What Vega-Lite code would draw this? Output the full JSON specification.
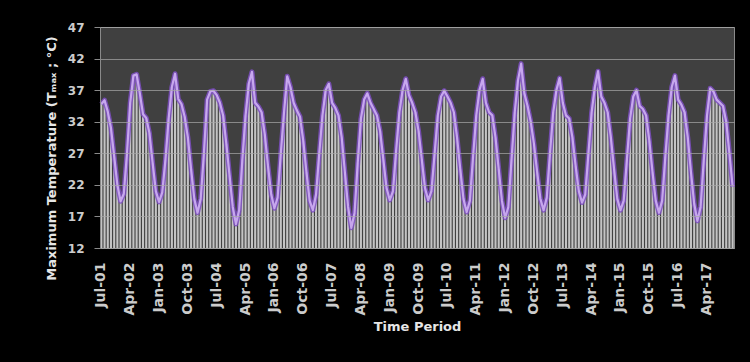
{
  "$schema": "https://vega.github.io/schema/vega-lite/v6.json",
  "width": 634,
  "height": 221,
  "autosize": {"type": "none"},
  "padding": {"left": 100, "top": 27, "right": 16, "bottom": 114},
  "background": "#000000",
  "config": {
    "view": {"fill": "#404040", "stroke": "#8a8a8a", "strokeWidth": 1}
  },
  "data": {
    "values": [
      {"m": "Jul-01", "t": 34.8}, {"m": "Aug-01", "t": 35.4}, {"m": "Sep-01", "t": 33.6}, {"m": "Oct-01", "t": 31.0}, {"m": "Nov-01", "t": 26.5}, {"m": "Dec-01", "t": 22.0},
      {"m": "Jan-02", "t": 19.4}, {"m": "Feb-02", "t": 20.6}, {"m": "Mar-02", "t": 27.0}, {"m": "Apr-02", "t": 35.0}, {"m": "May-02", "t": 39.3}, {"m": "Jun-02", "t": 39.5},
      {"m": "Jul-02", "t": 36.5}, {"m": "Aug-02", "t": 33.2}, {"m": "Sep-02", "t": 32.6}, {"m": "Oct-02", "t": 30.2}, {"m": "Nov-02", "t": 25.5}, {"m": "Dec-02", "t": 21.0},
      {"m": "Jan-03", "t": 19.3}, {"m": "Feb-03", "t": 20.8}, {"m": "Mar-03", "t": 26.0}, {"m": "Apr-03", "t": 32.5}, {"m": "May-03", "t": 37.5}, {"m": "Jun-03", "t": 39.6},
      {"m": "Jul-03", "t": 35.6}, {"m": "Aug-03", "t": 34.8}, {"m": "Sep-03", "t": 32.8}, {"m": "Oct-03", "t": 29.5}, {"m": "Nov-03", "t": 24.5}, {"m": "Dec-03", "t": 19.8},
      {"m": "Jan-04", "t": 17.6}, {"m": "Feb-04", "t": 19.8}, {"m": "Mar-04", "t": 27.0}, {"m": "Apr-04", "t": 35.5}, {"m": "May-04", "t": 36.8}, {"m": "Jun-04", "t": 36.9},
      {"m": "Jul-04", "t": 36.2}, {"m": "Aug-04", "t": 35.0}, {"m": "Sep-04", "t": 33.0}, {"m": "Oct-04", "t": 28.5}, {"m": "Nov-04", "t": 23.5}, {"m": "Dec-04", "t": 18.5},
      {"m": "Jan-05", "t": 15.8}, {"m": "Feb-05", "t": 18.0}, {"m": "Mar-05", "t": 26.0}, {"m": "Apr-05", "t": 33.0}, {"m": "May-05", "t": 38.0}, {"m": "Jun-05", "t": 39.9},
      {"m": "Jul-05", "t": 35.0}, {"m": "Aug-05", "t": 34.4}, {"m": "Sep-05", "t": 33.5}, {"m": "Oct-05", "t": 30.0}, {"m": "Nov-05", "t": 25.0}, {"m": "Dec-05", "t": 20.5},
      {"m": "Jan-06", "t": 18.3}, {"m": "Feb-06", "t": 20.0}, {"m": "Mar-06", "t": 27.0}, {"m": "Apr-06", "t": 33.5}, {"m": "May-06", "t": 39.2}, {"m": "Jun-06", "t": 37.5},
      {"m": "Jul-06", "t": 35.0}, {"m": "Aug-06", "t": 33.8}, {"m": "Sep-06", "t": 32.8}, {"m": "Oct-06", "t": 29.0}, {"m": "Nov-06", "t": 24.0}, {"m": "Dec-06", "t": 19.5},
      {"m": "Jan-07", "t": 18.0}, {"m": "Feb-07", "t": 20.5}, {"m": "Mar-07", "t": 27.0}, {"m": "Apr-07", "t": 33.0}, {"m": "May-07", "t": 37.0}, {"m": "Jun-07", "t": 38.0},
      {"m": "Jul-07", "t": 35.0}, {"m": "Aug-07", "t": 34.2}, {"m": "Sep-07", "t": 33.0}, {"m": "Oct-07", "t": 29.5}, {"m": "Nov-07", "t": 24.0}, {"m": "Dec-07", "t": 18.5},
      {"m": "Jan-08", "t": 15.2}, {"m": "Feb-08", "t": 17.5}, {"m": "Mar-08", "t": 25.5}, {"m": "Apr-08", "t": 32.5}, {"m": "May-08", "t": 35.5}, {"m": "Jun-08", "t": 36.5},
      {"m": "Jul-08", "t": 35.0}, {"m": "Aug-08", "t": 34.0}, {"m": "Sep-08", "t": 33.0}, {"m": "Oct-08", "t": 30.5}, {"m": "Nov-08", "t": 26.0}, {"m": "Dec-08", "t": 21.5},
      {"m": "Jan-09", "t": 19.6}, {"m": "Feb-09", "t": 21.0}, {"m": "Mar-09", "t": 27.5}, {"m": "Apr-09", "t": 33.5}, {"m": "May-09", "t": 37.0}, {"m": "Jun-09", "t": 38.8},
      {"m": "Jul-09", "t": 36.2}, {"m": "Aug-09", "t": 35.0}, {"m": "Sep-09", "t": 33.5}, {"m": "Oct-09", "t": 30.5}, {"m": "Nov-09", "t": 26.0}, {"m": "Dec-09", "t": 21.5},
      {"m": "Jan-10", "t": 19.6}, {"m": "Feb-10", "t": 21.0}, {"m": "Mar-10", "t": 27.0}, {"m": "Apr-10", "t": 33.0}, {"m": "May-10", "t": 36.0}, {"m": "Jun-10", "t": 36.9},
      {"m": "Jul-10", "t": 36.0}, {"m": "Aug-10", "t": 35.0}, {"m": "Sep-10", "t": 33.5}, {"m": "Oct-10", "t": 29.5}, {"m": "Nov-10", "t": 24.5}, {"m": "Dec-10", "t": 19.8},
      {"m": "Jan-11", "t": 17.7}, {"m": "Feb-11", "t": 19.5}, {"m": "Mar-11", "t": 26.5}, {"m": "Apr-11", "t": 33.0}, {"m": "May-11", "t": 37.0}, {"m": "Jun-11", "t": 38.8},
      {"m": "Jul-11", "t": 35.0}, {"m": "Aug-11", "t": 33.5}, {"m": "Sep-11", "t": 33.0}, {"m": "Oct-11", "t": 29.5}, {"m": "Nov-11", "t": 24.5}, {"m": "Dec-11", "t": 19.5},
      {"m": "Jan-12", "t": 16.8}, {"m": "Feb-12", "t": 18.5}, {"m": "Mar-12", "t": 26.0}, {"m": "Apr-12", "t": 33.5}, {"m": "May-12", "t": 38.5}, {"m": "Jun-12", "t": 41.2},
      {"m": "Jul-12", "t": 36.5}, {"m": "Aug-12", "t": 34.5}, {"m": "Sep-12", "t": 32.0}, {"m": "Oct-12", "t": 28.5}, {"m": "Nov-12", "t": 24.0}, {"m": "Dec-12", "t": 19.8},
      {"m": "Jan-13", "t": 18.0}, {"m": "Feb-13", "t": 20.0}, {"m": "Mar-13", "t": 27.0}, {"m": "Apr-13", "t": 33.5}, {"m": "May-13", "t": 37.0}, {"m": "Jun-13", "t": 38.9},
      {"m": "Jul-13", "t": 35.0}, {"m": "Aug-13", "t": 33.0}, {"m": "Sep-13", "t": 32.5}, {"m": "Oct-13", "t": 29.5}, {"m": "Nov-13", "t": 25.0}, {"m": "Dec-13", "t": 21.0},
      {"m": "Jan-14", "t": 19.2}, {"m": "Feb-14", "t": 20.5}, {"m": "Mar-14", "t": 27.0}, {"m": "Apr-14", "t": 33.5}, {"m": "May-14", "t": 37.5}, {"m": "Jun-14", "t": 40.0},
      {"m": "Jul-14", "t": 36.0}, {"m": "Aug-14", "t": 35.0}, {"m": "Sep-14", "t": 33.5}, {"m": "Oct-14", "t": 29.5}, {"m": "Nov-14", "t": 24.5}, {"m": "Dec-14", "t": 19.8},
      {"m": "Jan-15", "t": 18.0}, {"m": "Feb-15", "t": 19.5}, {"m": "Mar-15", "t": 26.0}, {"m": "Apr-15", "t": 32.5}, {"m": "May-15", "t": 36.0}, {"m": "Jun-15", "t": 37.0},
      {"m": "Jul-15", "t": 34.5}, {"m": "Aug-15", "t": 34.0}, {"m": "Sep-15", "t": 33.0}, {"m": "Oct-15", "t": 29.0}, {"m": "Nov-15", "t": 24.0}, {"m": "Dec-15", "t": 19.5},
      {"m": "Jan-16", "t": 17.6}, {"m": "Feb-16", "t": 19.5}, {"m": "Mar-16", "t": 26.5}, {"m": "Apr-16", "t": 33.0}, {"m": "May-16", "t": 37.5}, {"m": "Jun-16", "t": 39.3},
      {"m": "Jul-16", "t": 35.5}, {"m": "Aug-16", "t": 34.7}, {"m": "Sep-16", "t": 33.5}, {"m": "Oct-16", "t": 29.5}, {"m": "Nov-16", "t": 24.0}, {"m": "Dec-16", "t": 19.0},
      {"m": "Jan-17", "t": 16.3}, {"m": "Feb-17", "t": 18.5}, {"m": "Mar-17", "t": 26.0}, {"m": "Apr-17", "t": 33.0}, {"m": "May-17", "t": 37.3}, {"m": "Jun-17", "t": 36.8},
      {"m": "Jul-17", "t": 35.5}, {"m": "Aug-17", "t": 35.0}, {"m": "Sep-17", "t": 34.5}, {"m": "Oct-17", "t": 32.0}, {"m": "Nov-17", "t": 27.0}, {"m": "Dec-17", "t": 21.7}
    ]
  },
  "encoding": {
    "x": {
      "field": "m",
      "type": "ordinal",
      "sort": null,
      "scale": {"paddingInner": 0.35, "paddingOuter": 0.1},
      "axis": {
        "title": "Time Period",
        "values": ["Jul-01", "Apr-02", "Jan-03", "Oct-03", "Jul-04", "Apr-05", "Jan-06", "Oct-06", "Jul-07", "Apr-08", "Jan-09", "Oct-09", "Jul-10", "Apr-11", "Jan-12", "Oct-12", "Jul-13", "Apr-14", "Jan-15", "Oct-15", "Jul-16", "Apr-17"],
        "labelAngle": 270,
        "labelAlign": "right",
        "labelBaseline": "middle",
        "labelOverlap": false,
        "labelFont": "DejaVu Sans",
        "labelFontWeight": "bold",
        "labelFontSize": 14,
        "labelColor": "#cccccc",
        "labelPadding": 14,
        "ticks": false,
        "domainColor": "#8a8a8a",
        "titleFont": "DejaVu Sans",
        "titleFontWeight": "bold",
        "titleFontSize": 13,
        "titleColor": "#e6e6e6",
        "titlePadding": 5
      }
    },
    "y": {
      "field": "t",
      "type": "quantitative",
      "scale": {"domain": [12, 47], "nice": false, "zero": false},
      "axis": {
        "title": "Maximum Temperature (Tₘₐₓ ; °C)",
        "values": [12, 17, 22, 27, 32, 37, 42, 47],
        "labelOverlap": false,
        "zindex": 1,
        "grid": true,
        "gridColor": "#a8a8a8",
        "gridOpacity": 0.7,
        "gridWidth": 1.2,
        "domainColor": "#8a8a8a",
        "tickColor": "#8a8a8a",
        "tickSize": 6,
        "labelFont": "DejaVu Sans",
        "labelFontWeight": "bold",
        "labelFontSize": 12,
        "labelColor": "#cccccc",
        "labelPadding": 10,
        "titleFont": "DejaVu Sans",
        "titleFontWeight": "bold",
        "titleFontSize": 13,
        "titleColor": "#e6e6e6",
        "titlePadding": 9,
        "titleY": 131
      }
    }
  },
  "layer": [
    {
      "mark": {"type": "bar", "color": "#c4c4c4", "clip": true},
      "encoding": {
        "y2": {"datum": 12}
      }
    },
    {
      "mark": {"type": "line", "color": "#7e4fc2", "strokeWidth": 5, "strokeJoin": "round", "opacity": 0.85},
      "encoding": {}
    },
    {
      "mark": {"type": "line", "color": "#cfb0f4", "strokeWidth": 2.2, "strokeJoin": "round", "opacity": 0.9},
      "encoding": {}
    }
  ]
}
